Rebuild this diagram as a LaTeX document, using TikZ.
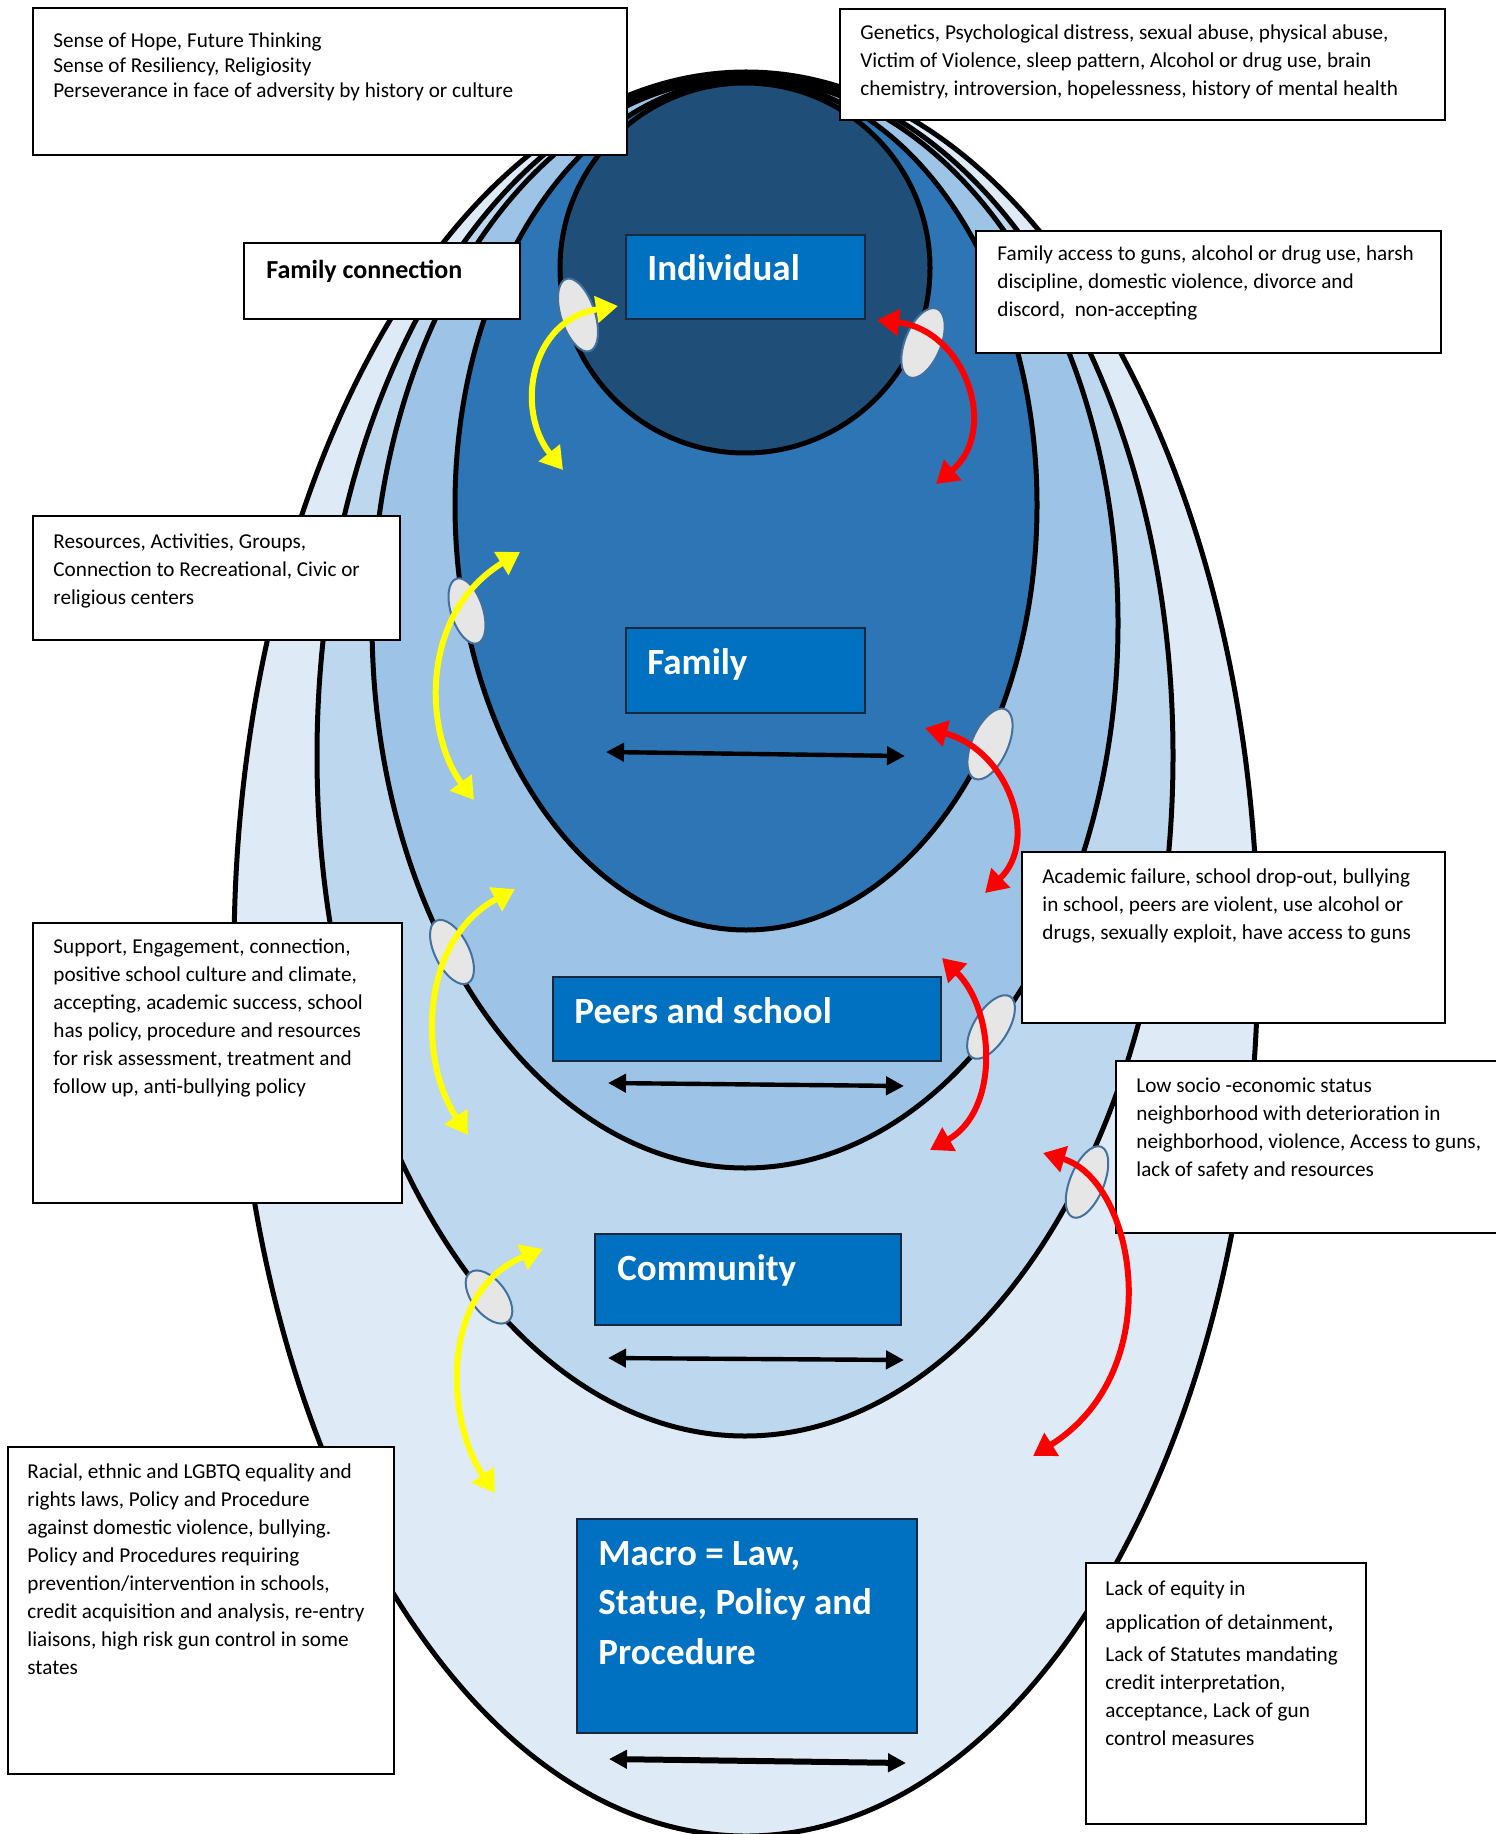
\documentclass[tikz,border=0pt]{standalone}
\usepackage{fontspec}
\setmainfont{Carlito}
\usetikzlibrary{arrows.meta,shapes.geometric}
\definecolor{cA}{RGB}{222,235,247}
\definecolor{cB}{RGB}{189,215,238}
\definecolor{cC}{RGB}{157,195,230}
\definecolor{cD}{RGB}{46,117,182}
\definecolor{cE}{RGB}{31,78,121}
\definecolor{lblue}{RGB}{0,112,192}
\definecolor{lborder}{RGB}{25,40,60}
\definecolor{gfill}{RGB}{231,230,230}
\definecolor{gline}{RGB}{65,113,156}
\definecolor{ayel}{RGB}{255,255,0}
\definecolor{ared}{RGB}{255,0,0}
\newcommand\mylines[1]{\begin{tabular}[t]{@{}l@{}}#1\end{tabular}}
\begin{document}
\begin{tikzpicture}[x=0.5pt,y=-0.5pt,
  layer/.style={ellipse,draw=black,line width=2.5pt,inner sep=0pt},
  txtbox/.style={rectangle,draw=black,fill=white,line width=1pt,inner sep=0pt},
  lblbox/.style={rectangle,draw=lborder,fill=lblue,line width=1.2pt,inner sep=0pt},
  bodytext/.style={anchor=base west,inner sep=0pt,font=\fontsize{10.6}{14}\selectfont},
  lbltext/.style={anchor=base west,inner sep=0pt,text=white,font=\fontsize{18.5}{24.75}\selectfont\bfseries},
  pinell/.style={ellipse,draw=gline,fill=gfill,line width=1pt,inner sep=0pt},
  yarrow/.style={draw=ayel,line width=3pt,{Triangle[length=11pt,width=13pt]}-{Triangle[length=11pt,width=13pt]}},
  rarrow/.style={draw=ared,line width=3pt,{Triangle[length=11pt,width=13pt]}-{Triangle[length=11pt,width=13pt]}},
  karrow/.style={draw=black,line width=2.2pt,{Triangle[length=9pt,width=9pt]}-{Triangle[length=9pt,width=9pt]}}
]
\useasboundingbox (0,0) rectangle (1495,1834);

% nested layers
\node[layer,fill=cA,minimum width=512pt,minimum height=882pt] (macroL) at (746,954) {};
\node[layer,fill=cB,minimum width=428pt,minimum height=680.5pt] (commL) at (745,755.5) {};
\node[layer,fill=cC,minimum width=373pt,minimum height=545pt] (peerL) at (745,623) {};
\node[layer,fill=cD,minimum width=291pt,minimum height=425pt] (famL) at (746,505) {};
\node[layer,fill=cE,minimum width=185pt,minimum height=185pt] (indL) at (745,268) {};

% white text boxes
\node[txtbox,minimum width=297pt,minimum height=73.5pt] (tlbox) at (330,81.5) {};
\node[bodytext,font=\fontsize{10.6}{12.3}\selectfont] (tltext) at (53,48) {\mylines{Sense of Hope, Future Thinking\\Sense of Resiliency, Religiosity\\Perseverance in face of adversity by history or culture}};

\node[txtbox,minimum width=302.5pt,minimum height=55.5pt] (trbox) at (1142.5,64.5) {};
\node[bodytext] (trtext) at (860,40) {\mylines{Genetics, Psychological distress, sexual abuse, physical abuse,\\Victim of Violence, sleep pattern, Alcohol or drug use, brain\\chemistry, introversion, hopelessness, history of mental health}};

\node[txtbox,minimum width=138pt,minimum height=38pt] (fcbox) at (382,281) {};
\node[anchor=base west,inner sep=0pt,font=\fontsize{13}{15}\selectfont\bfseries] (fctext) at (266,279) {Family connection};

\node[txtbox,minimum width=232.5pt,minimum height=61pt] (fabox) at (1208.5,292) {};
\node[bodytext] (fatext) at (997,261) {\mylines{Family access to guns, alcohol or drug use, harsh\\discipline, domestic violence, divorce and\\discord,\ \ non-accepting}};

\node[txtbox,minimum width=183.5pt,minimum height=62pt] (rsbox) at (216.5,578) {};
\node[bodytext] (rstext) at (53,548) {\mylines{Resources, Activities, Groups,\\Connection to Recreational, Civic or\\religious centers}};

\node[txtbox,minimum width=211.5pt,minimum height=85.5pt] (acbox) at (1233.5,937.5) {};
\node[bodytext] (actext) at (1042,883) {\mylines{Academic failure, school drop-out, bullying\\in school, peers are violent, use alcohol or\\drugs, sexually exploit, have access to guns}};

\node[txtbox,minimum width=184.5pt,minimum height=140pt] (spbox) at (217.5,1063) {};
\node[bodytext] (sptext) at (53,953) {\mylines{Support, Engagement, connection,\\positive school culture and climate,\\accepting, academic success, school\\has policy, procedure and resources\\for risk assessment, treatment and\\follow up, anti-bullying policy}};

\node[txtbox,minimum width=197pt,minimum height=86pt] (lsbox) at (1313,1147) {};
\node[bodytext] (lstext) at (1136,1092) {\mylines{Low socio -economic status\\neighborhood with deterioration in\\neighborhood, violence, Access to guns,\\lack of safety and resources}};

\node[txtbox,minimum width=193pt,minimum height=163.5pt] (rcbox) at (200.5,1610.5) {};
\node[bodytext] (rctext) at (27,1478) {\mylines{Racial, ethnic and LGBTQ equality and\\rights laws, Policy and Procedure\\against domestic violence, bullying.\\Policy and Procedures requiring\\prevention/intervention in schools,\\credit acquisition and analysis, re-entry\\liaisons, high risk gun control in some\\states}};

\node[txtbox,minimum width=140pt,minimum height=130.5pt] (lebox) at (1226,1693.5) {};
\node[bodytext] (letext) at (1105,1595) {\mylines{Lack of equity in\\[3pt]application of detainment\textbf{,}\\[2pt]Lack of Statutes mandating\\credit interpretation,\\acceptance, Lack of gun\\control measures}};

% blue label boxes
\node[lblbox,minimum width=119.5pt,minimum height=42pt] (indbox) at (745.5,277) {};
\node[lbltext] (indtext) at (647,281) {Individual};
\node[lblbox,minimum width=119.5pt,minimum height=42.5pt] (fambox) at (745.5,670.5) {};
\node[lbltext] (famtext) at (647,674) {Family};
\node[lblbox,minimum width=194pt,minimum height=42pt] (peerbox) at (747,1019) {};
\node[lbltext] (peertext) at (574,1023) {Peers and school};
\node[lblbox,minimum width=153pt,minimum height=45.5pt] (commbox) at (748,1279.5) {};
\node[lbltext] (commtext) at (617,1280) {Community};
\node[lblbox,minimum width=170pt,minimum height=107pt] (macrobox) at (747,1626) {};
\node[lbltext] (macrotext) at (598,1565) {\mylines{Macro = Law,\\Statue, Policy and\\Procedure}};

% black double arrows
\coordinate (k1a) at (606,752); \coordinate (k1b) at (905,756);
\coordinate (k2a) at (608,1083); \coordinate (k2b) at (904,1086);
\coordinate (k3a) at (608,1358); \coordinate (k3b) at (904,1360);
\coordinate (k4a) at (609,1759); \coordinate (k4b) at (906,1763);
\draw[karrow] (k1a) -- (k1b);
\draw[karrow] (k2a) -- (k2b);
\draw[karrow] (k3a) -- (k3b);
\draw[karrow,line width=3pt] (k4a) -- (k4b);

% grey pins
\node[pinell,minimum width=17pt,minimum height=38pt,rotate=18] (g1) at (578,315) {};
\node[pinell,minimum width=18pt,minimum height=37pt,rotate=-22] (g2) at (923,343) {};
\node[pinell,minimum width=16pt,minimum height=34pt,rotate=18] (g3) at (467,611) {};
\node[pinell,minimum width=18pt,minimum height=38pt,rotate=-24] (g4) at (990,744) {};
\node[pinell,minimum width=17pt,minimum height=35pt,rotate=27] (g5) at (452,952) {};
\node[pinell,minimum width=17pt,minimum height=36pt,rotate=-32] (g6) at (991,1027) {};
\node[pinell,minimum width=17pt,minimum height=31pt,rotate=38] (g7) at (489,1297) {};
\node[pinell,minimum width=17pt,minimum height=38pt,rotate=-22] (g8) at (1087,1182) {};

% yellow arrows
\coordinate (y1a) at (563,470); \coordinate (y1b) at (618,306);
\coordinate (y2a) at (474,800); \coordinate (y2b) at (520,552);
\coordinate (y3a) at (468,1135); \coordinate (y3b) at (515,889);
\coordinate (y4a) at (495,1493); \coordinate (y4b) at (543,1249);
\draw[yarrow] (y1a) .. controls (515,410) and (530,320) .. (y1b);
\draw[yarrow] (y2a) .. controls (425,735) and (418,615) .. (y2b);
\draw[yarrow] (y3a) .. controls (418,1060) and (420,940) .. (y3b);
\draw[yarrow] (y4a) .. controls (445,1420) and (440,1290) .. (y4b);

% red arrows
\coordinate (r1a) at (877,320); \coordinate (r1b) at (936,484);
\coordinate (r2a) at (925,728); \coordinate (r2b) at (985,893);
\coordinate (r3a) at (942,958); \coordinate (r3b) at (930,1150);
\coordinate (r4a) at (1043,1153); \coordinate (r4b) at (1033,1456);
\draw[rarrow] (r1a) .. controls (965,330) and (1000,430) .. (r1b);
\draw[rarrow] (r2a) .. controls (1008,750) and (1040,840) .. (r2b);
\draw[rarrow] (r3a) .. controls (995,1010) and (1000,1110) .. (r3b);
\draw[rarrow] (r4a) .. controls (1135,1180) and (1170,1370) .. (r4b);
\end{tikzpicture}
\end{document}
